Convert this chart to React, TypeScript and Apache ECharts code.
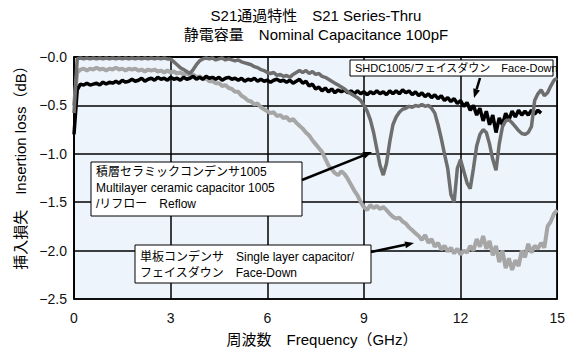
import React, { useEffect, useRef } from "react";
import * as echarts from "echarts";

// Frequency sampling points (GHz)
const FREQ = [
  0.0, 0.1, 0.2, 0.3, 0.4, 0.5, 0.6, 0.7, 0.8, 0.9,
  1.0, 1.1, 1.2, 1.3, 1.4, 1.5, 1.6, 1.7, 1.8, 1.9,
  2.0, 2.1, 2.2, 2.3, 2.4, 2.5, 2.6, 2.7, 2.8, 2.9,
  3.0, 3.1, 3.2, 3.3, 3.4, 3.5, 3.6, 3.7, 3.8, 3.9,
  4.0, 4.1, 4.2, 4.3, 4.4, 4.5, 4.6, 4.7, 4.8, 4.9,
  5.0, 5.1, 5.2, 5.3, 5.4, 5.5, 5.6, 5.7, 5.8, 5.9,
  6.0, 6.1, 6.2, 6.3, 6.4, 6.5, 6.6, 6.7, 6.8, 6.9,
  7.0, 7.1, 7.2, 7.3, 7.4, 7.5, 7.6, 7.7, 7.8, 7.9,
  8.0, 8.1, 8.2, 8.3, 8.4, 8.5, 8.6, 8.7, 8.8, 8.9,
  9.0, 9.1, 9.2, 9.3, 9.4, 9.5, 9.6, 9.7, 9.8, 9.9,
  10.0, 10.1, 10.2, 10.3, 10.4, 10.5, 10.6, 10.7, 10.8, 10.9,
  11.0, 11.1, 11.2, 11.3, 11.4, 11.5, 11.6, 11.7, 11.8, 11.9,
  12.0, 12.1, 12.2, 12.3, 12.4, 12.5, 12.6, 12.7, 12.8, 12.9,
  13.0, 13.1, 13.2, 13.3, 13.4, 13.5, 13.6, 13.7, 13.8, 13.9,
  14.0, 14.1, 14.2, 14.3, 14.4, 14.5, 14.6, 14.7, 14.8, 14.9,
  15.0,
];

// SHDC1005 / face-down (black)
const LOSS_SHDC = [
  -0.80, -0.34, -0.28, -0.29, -0.27, -0.29, -0.28, -0.27, -0.29, -0.26,
  -0.28, -0.26, -0.27, -0.25, -0.27, -0.24, -0.26, -0.25, -0.23, -0.25,
  -0.24, -0.22, -0.25, -0.23, -0.22, -0.24, -0.21, -0.23, -0.22, -0.24,
  -0.21, -0.23, -0.22, -0.24, -0.21, -0.23, -0.22, -0.20, -0.23, -0.21,
  -0.23, -0.20, -0.22, -0.21, -0.23, -0.21, -0.24, -0.22, -0.21, -0.23,
  -0.22, -0.24, -0.22, -0.25, -0.23, -0.24, -0.22, -0.25, -0.23, -0.25,
  -0.24, -0.26, -0.24, -0.23, -0.25, -0.24, -0.26, -0.24, -0.27, -0.25,
  -0.23, -0.27, -0.25, -0.30, -0.28, -0.33, -0.31, -0.35, -0.32, -0.36,
  -0.33, -0.37, -0.34, -0.36, -0.34, -0.37, -0.35, -0.38, -0.35, -0.38,
  -0.36, -0.39, -0.36, -0.38, -0.35, -0.38, -0.36, -0.39, -0.35, -0.38,
  -0.35, -0.38, -0.34, -0.37, -0.35, -0.39, -0.36, -0.40, -0.37, -0.41,
  -0.38, -0.42, -0.39, -0.43, -0.40, -0.45, -0.42, -0.46, -0.43, -0.48,
  -0.45, -0.51, -0.47, -0.55, -0.50, -0.60, -0.53, -0.66, -0.56, -0.70,
  -0.60, -0.78, -0.63, -0.70, -0.58, -0.65, -0.56, -0.62, -0.55, -0.60,
  -0.56, -0.60, -0.55, -0.59, -0.55, -0.58, null, null, null, null,
  null,
];

// Multilayer ceramic capacitor 1005 / reflow (dark grey)
const LOSS_MLCC = [
  -0.58, -0.02, -0.01, -0.02, -0.01, -0.02, -0.01, -0.02, -0.01, -0.02,
  -0.01, -0.02, -0.01, -0.02, -0.01, -0.02, -0.01, -0.02, -0.01, -0.02,
  -0.01, -0.02, -0.01, -0.02, -0.01, -0.02, -0.01, -0.02, -0.01, -0.02,
  -0.02, -0.05, -0.08, -0.11, -0.13, -0.15, -0.17, -0.13, -0.08, -0.04,
  -0.02, -0.01, -0.02, -0.01, -0.03, -0.02, -0.01, -0.03, -0.02, -0.03,
  -0.04, -0.03, -0.05, -0.06, -0.07, -0.08, -0.10, -0.11, -0.13, -0.14,
  -0.16, -0.17, -0.16, -0.19, -0.18, -0.20, -0.19, -0.21, -0.18, -0.16,
  -0.14, -0.16, -0.14, -0.17, -0.15, -0.18, -0.17, -0.20, -0.21, -0.23,
  -0.25, -0.27, -0.29, -0.31, -0.33, -0.36, -0.38, -0.40, -0.42, -0.45,
  -0.50, -0.56, -0.65, -0.78, -0.95, -1.12, -1.22, -1.10, -0.88, -0.70,
  -0.62, -0.57, -0.54, -0.53, -0.51, -0.52, -0.50, -0.51, -0.49, -0.51,
  -0.50, -0.53, -0.58, -0.70, -0.84, -1.00, -1.15, -1.42, -1.50, -1.15,
  -1.06, -1.18, -1.30, -1.36, -1.15, -0.92, -0.80, -0.75, -0.78, -0.90,
  -1.06, -1.17, -0.90, -0.72, -0.66, -0.65, -0.68, -0.72, -0.76, -0.79,
  -0.80, -0.78, -0.72, -0.45, -0.38, -0.34, -0.40, -0.37, -0.30, -0.24,
  -0.22,
];

// Single layer capacitor / face-down (light grey)
const LOSS_SLC = [
  -0.50, -0.16, -0.13, -0.12, -0.14, -0.12, -0.13, -0.11, -0.13, -0.12,
  -0.14, -0.12, -0.13, -0.11, -0.13, -0.12, -0.14, -0.12, -0.13, -0.12,
  -0.14, -0.13, -0.15, -0.13, -0.14, -0.13, -0.15, -0.14, -0.16, -0.14,
  -0.16, -0.15, -0.17, -0.16, -0.18, -0.17, -0.19, -0.18, -0.21, -0.20,
  -0.23, -0.22, -0.25, -0.25, -0.27, -0.27, -0.30, -0.29, -0.32, -0.33,
  -0.36, -0.36, -0.40, -0.42, -0.45, -0.46, -0.49, -0.48, -0.52, -0.54,
  -0.56, -0.58, -0.57, -0.61, -0.60, -0.63, -0.62, -0.66, -0.64, -0.68,
  -0.71, -0.74, -0.78, -0.81, -0.86, -0.90, -0.94, -0.98, -1.05, -1.12,
  -1.16, -1.20, -1.22, -1.18, -1.21, -1.26, -1.32, -1.38, -1.43, -1.50,
  -1.55, -1.58, -1.53, -1.56, -1.54, -1.57, -1.55, -1.58, -1.62, -1.65,
  -1.67, -1.66, -1.70, -1.72, -1.76, -1.79, -1.82, -1.85, -1.89, -1.84,
  -1.92, -1.88, -1.96, -1.92, -1.99, -1.95, -2.01, -1.97, -2.03, -1.98,
  -2.04, -2.00, -2.02, -1.95, -2.00, -1.88, -1.96, -1.85, -1.98, -1.90,
  -2.05, -1.95, -2.12, -2.00, -2.18, -2.08, -2.20, -2.10, -2.16, -2.00,
  -2.07, -1.93, -2.02, -1.95, -1.98, -1.92, -1.97, -1.75, -1.70, -1.62,
  -1.58,
];

const TITLE_1 = "S21通過特性　S21 Series-Thru";
const TITLE_2 = "静電容量　Nominal Capacitance 100pF";
const Y_NAME = "挿入損失　Insertion loss（dB）";
const X_NAME = "周波数　Frequency（GHz）";
const NOTE_SHDC = "SHDC1005/フェイスダウン　Face-Down";
const NOTE_MLCC = ["積層セラミックコンデンサ1005", "Multilayer ceramic capacitor 1005", "/リフロー　Reflow"];
const NOTE_SLC = ["単板コンデンサ　Single layer capacitor/", "フェイスダウン　Face-Down"];

const FONT = "'Liberation Sans', Arial, 'Noto Sans CJK JP', sans-serif";

function pairs(vals: (number | null)[]) {
  const out: [number, number][] = [];
  FREQ.forEach((f, i) => {
    const v = vals[i];
    if (v !== null && v !== undefined) out.push([f, v]);
  });
  return out;
}

function arrow(x1: number, y1: number, x2: number, y2: number) {
  const dx = x2 - x1;
  const dy = y2 - y1;
  const L = Math.hypot(dx, dy);
  const ux = dx / L;
  const uy = dy / L;
  const hl = 9;
  const hw = 3.5;
  const bx = x2 - ux * hl;
  const by = y2 - uy * hl;
  return [
    { type: "line", z: 100, shape: { x1, y1, x2: bx, y2: by }, style: { stroke: "#000", lineWidth: 2.5 } },
    {
      type: "polygon",
      z: 100,
      shape: { points: [[x2, y2], [bx - uy * hw, by + ux * hw], [bx + uy * hw, by - ux * hw]] },
      style: { fill: "#000" },
    },
  ];
}

function box(x: number, y: number, w: number, h: number, lines: string[], fontSize: number, lineH: number, firstY: number) {
  const els: any[] = [
    { type: "rect", z: 100, shape: { x, y, width: w, height: h }, style: { fill: "#fff", stroke: "#000", lineWidth: 1 } },
  ];
  lines.forEach((t, i) => {
    els.push({
      type: "text",
      z: 101,
      x: x + 5,
      y: firstY + i * lineH,
      style: { text: t, font: `${fontSize}px ${FONT}`, fill: "#000", textAlign: "left", textVerticalAlign: "middle" },
    });
  });
  return els;
}

export default function App() {
  const ref = useRef<HTMLDivElement>(null);
  useEffect(() => {
    document.body.style.margin = "0";
    const chart = echarts.init(ref.current!, undefined, { renderer: "svg" });
    const lineStyle = (color: string, width: number) => ({ color, width });
    chart.setOption({
      animation: false,
      grid: {
        left: 74,
        right: 9,
        top: 57,
        bottom: 50,
        show: true,
        backgroundColor: "#EEF4FB",
        borderColor: "#000",
        borderWidth: 1.5,
      },
      xAxis: {
        type: "value",
        min: 0,
        max: 15,
        interval: 3,
        axisLine: { show: true, lineStyle: { color: "#000", width: 1.5 } },
        axisTick: { show: false },
        splitLine: { show: true, lineStyle: { color: "#000", width: 1.5 } },
        axisLabel: { color: "#111", fontSize: 14, fontFamily: FONT, margin: 12 },
      },
      yAxis: {
        type: "value",
        min: -2.5,
        max: 0,
        interval: 0.5,
        axisLine: { show: true, lineStyle: { color: "#000", width: 1.5 } },
        axisTick: { show: false },
        splitLine: { show: true, lineStyle: { color: "#000", width: 1.5 } },
        axisLabel: {
          color: "#111",
          fontSize: 14,
          fontFamily: FONT,
          margin: 7,
          formatter: (v: number) => "−" + Math.abs(v).toFixed(1),
        },
      },
      series: [
        {
          type: "line",
          name: "Single layer capacitor",
          data: pairs(LOSS_SLC),
          showSymbol: false,
          lineStyle: lineStyle("#A6A6A6", 4),
          z: 2,
        },
        {
          type: "line",
          name: "SHDC1005",
          data: pairs(LOSS_SHDC),
          showSymbol: false,
          lineStyle: lineStyle("#000000", 3.5),
          z: 3,
        },
        {
          type: "line",
          name: "Multilayer ceramic capacitor 1005",
          data: pairs(LOSS_MLCC),
          showSymbol: false,
          lineStyle: lineStyle("#6E6E6E", 3.5),
          z: 4,
        },
      ],
      graphic: [
        { type: "text", x: 316, y: 15, style: { text: TITLE_1, font: `15px ${FONT}`, fill: "#000", textAlign: "center", textVerticalAlign: "middle" } },
        { type: "text", x: 316, y: 34, style: { text: TITLE_2, font: `15px ${FONT}`, fill: "#000", textAlign: "center", textVerticalAlign: "middle" } },
        { type: "text", x: 20, y: 164, rotation: Math.PI / 2, style: { text: Y_NAME, font: `15px ${FONT}`, fill: "#000", textAlign: "center", textVerticalAlign: "middle" } },
        { type: "text", x: 322, y: 339, style: { text: X_NAME, font: `15px ${FONT}`, fill: "#000", textAlign: "center", textVerticalAlign: "middle" } },
        ...box(350, 60, 203, 16, [NOTE_SHDC], 11, 14, 68),
        ...arrow(480, 78, 474, 98),
        ...box(91, 162, 211, 54, NOTE_MLCC, 12, 16, 172),
        ...arrow(302, 180, 372, 152),
        ...box(135, 245, 236, 38, NOTE_SLC, 12, 16, 257),
        ...arrow(371, 252, 414, 243),
      ],
    });
    return () => chart.dispose();
  }, []);
  return <div ref={ref} style={{ position: "absolute", left: 0, top: 0, width: 568, height: 349 }} />;
}
